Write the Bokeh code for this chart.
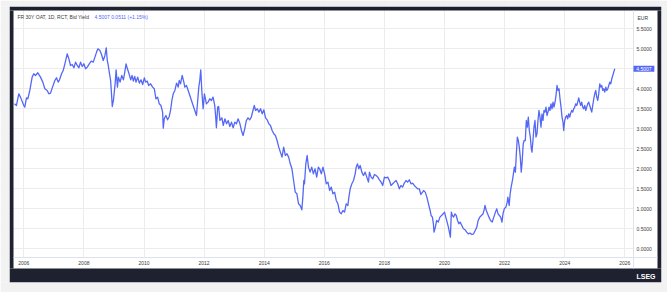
from bokeh.plotting import figure
from bokeh.models import Range1d, FixedTicker, Label, NumeralTickFormatter, ColumnDataSource, BoxAnnotation
from bokeh.embed import file_html
from bokeh.resources import INLINE

# ---------------- data (decimal year, bid yield %) ----------------
dates = [
    2005.689, 2005.756, 2005.833, 2005.889, 2006.000, 2006.033, 2006.089, 2006.133, 2006.200, 2006.278,
    2006.333, 2006.389, 2006.467, 2006.556, 2006.633, 2006.700, 2006.778, 2006.833, 2006.889, 2006.956,
    2007.033, 2007.089, 2007.144, 2007.189, 2007.256, 2007.311, 2007.367, 2007.444, 2007.500, 2007.556,
    2007.611, 2007.667, 2007.722, 2007.778, 2007.833, 2007.889, 2007.944, 2008.000, 2008.056, 2008.111,
    2008.178, 2008.244, 2008.311, 2008.367, 2008.422, 2008.467, 2008.533, 2008.578, 2008.644, 2008.700,
    2008.744, 2008.778, 2008.811, 2008.844, 2008.889, 2008.922, 2008.944,
    2008.983, 2009.039, 2009.072, 2009.116, 2009.149, 2009.204, 2009.260, 2009.315, 2009.370, 2009.403,
    2009.448, 2009.503, 2009.558, 2009.602, 2009.646, 2009.691, 2009.735, 2009.790, 2009.845, 2009.901,
    2009.956, 2010.011, 2010.055, 2010.110, 2010.155, 2010.221, 2010.287, 2010.343, 2010.398, 2010.453,
    2010.508, 2010.564, 2010.619, 2010.641, 2010.674, 2010.729, 2010.785, 2010.840, 2010.884, 2010.928,
    2010.972, 2011.028, 2011.083, 2011.138, 2011.171, 2011.215, 2011.271, 2011.326, 2011.359, 2011.414,
    2011.470, 2011.525, 2011.580, 2011.635, 2011.691, 2011.746, 2011.779, 2011.823, 2011.856, 2011.889,
    2011.923, 2011.967, 2012.011, 2012.044, 2012.077, 2012.133, 2012.188, 2012.243, 2012.298, 2012.354,
    2012.387, 2012.409,
    2012.451, 2012.484, 2012.527, 2012.593, 2012.637, 2012.692, 2012.747, 2012.802, 2012.857, 2012.912,
    2012.967, 2013.022, 2013.077, 2013.132, 2013.187, 2013.242, 2013.297, 2013.352, 2013.407, 2013.462,
    2013.516, 2013.571, 2013.626, 2013.670, 2013.714, 2013.769, 2013.824, 2013.879, 2013.934, 2013.989,
    2014.044, 2014.099, 2014.154, 2014.209, 2014.264, 2014.319, 2014.374, 2014.429, 2014.484, 2014.538,
    2014.593, 2014.648, 2014.703, 2014.758, 2014.813, 2014.868, 2014.923, 2014.978, 2015.033, 2015.088,
    2015.143, 2015.198, 2015.253, 2015.286, 2015.319, 2015.341, 2015.385, 2015.429, 2015.473, 2015.527,
    2015.582, 2015.637, 2015.692, 2015.747, 2015.802,
    2015.845, 2015.901, 2015.956, 2016.011, 2016.066, 2016.122, 2016.177, 2016.232, 2016.287, 2016.343,
    2016.398, 2016.453, 2016.508, 2016.564, 2016.619, 2016.674, 2016.729, 2016.785, 2016.818, 2016.862,
    2016.917, 2016.972, 2017.028, 2017.061, 2017.105, 2017.149, 2017.193, 2017.249, 2017.304, 2017.359,
    2017.414, 2017.470, 2017.503, 2017.558, 2017.613, 2017.669, 2017.724, 2017.779, 2017.834, 2017.890,
    2017.945, 2018.000, 2018.055, 2018.110, 2018.166, 2018.221, 2018.276, 2018.331, 2018.387, 2018.442,
    2018.497, 2018.552, 2018.608, 2018.663, 2018.718, 2018.773, 2018.829, 2018.884, 2018.939, 2018.994,
    2019.050, 2019.105, 2019.160, 2019.215, 2019.271,
    2019.304, 2019.359, 2019.413, 2019.467, 2019.522, 2019.554, 2019.598, 2019.630, 2019.652, 2019.696,
    2019.739, 2019.793, 2019.848, 2019.902, 2019.957, 2020.000, 2020.043, 2020.087, 2020.130, 2020.174,
    2020.196, 2020.228, 2020.261, 2020.304, 2020.348, 2020.391, 2020.435, 2020.478, 2020.522, 2020.576,
    2020.630, 2020.685, 2020.739, 2020.793, 2020.848, 2020.913, 2020.967, 2021.022, 2021.076, 2021.120,
    2021.174, 2021.228, 2021.283, 2021.326, 2021.348, 2021.391, 2021.435, 2021.478, 2021.533, 2021.587,
    2021.641, 2021.696, 2021.739, 2021.783, 2021.826, 2021.870, 2021.913, 2021.946, 2021.989, 2022.043,
    2022.087, 2022.109, 2022.152, 2022.185, 2022.217, 2022.261, 2022.293, 2022.326, 2022.359, 2022.391,
    2022.424, 2022.457, 2022.489, 2022.522, 2022.554, 2022.587, 2022.620, 2022.652,
    2022.689, 2022.722, 2022.756, 2022.789, 2022.822, 2022.856, 2022.889, 2022.911, 2022.944, 2022.978,
    2023.011, 2023.044, 2023.078, 2023.111, 2023.144, 2023.178, 2023.211, 2023.244, 2023.278, 2023.311,
    2023.344, 2023.378, 2023.411, 2023.444, 2023.478, 2023.511, 2023.544, 2023.578, 2023.611, 2023.644,
    2023.678, 2023.711, 2023.744, 2023.778, 2023.811, 2023.844, 2023.878, 2023.911, 2023.944, 2023.967,
    2024.000, 2024.033, 2024.067, 2024.100, 2024.133, 2024.167, 2024.200, 2024.233, 2024.267, 2024.300,
    2024.333, 2024.367, 2024.400, 2024.433, 2024.467, 2024.500, 2024.533, 2024.567, 2024.600, 2024.633,
    2024.667, 2024.700, 2024.733, 2024.767, 2024.800, 2024.833, 2024.867, 2024.900, 2024.933, 2024.967,
    2025.000, 2025.033, 2025.067, 2025.100, 2025.133, 2025.167, 2025.200, 2025.233, 2025.267, 2025.300,
    2025.333, 2025.367, 2025.400, 2025.433, 2025.467, 2025.500, 2025.533, 2025.567, 2025.600, 2025.633,
    2025.667,
]

yields = [
    3.625, 3.583, 3.875, 3.792, 3.583, 3.542, 3.775, 3.750, 3.958, 4.292,
    4.375, 4.333, 4.400, 4.292, 4.167, 4.000, 3.958, 3.875, 3.892, 4.042,
    4.208, 4.275, 4.167, 4.225, 4.375, 4.458, 4.625, 4.875, 4.750, 4.583,
    4.608, 4.525, 4.667, 4.583, 4.525, 4.667, 4.558, 4.625, 4.500, 4.542,
    4.625, 4.692, 4.667, 4.792, 4.917, 5.000, 4.958, 4.875, 4.708, 4.833,
    5.025, 4.708, 4.583, 4.417, 4.208, 3.833, 3.558,
    3.708, 4.125, 4.475, 4.042, 4.292, 4.167, 4.333, 4.225, 4.458, 4.625,
    4.500, 4.375, 4.225, 4.333, 4.192, 4.308, 4.167, 4.292, 4.142, 4.225,
    4.108, 4.275, 4.167, 4.192, 4.083, 4.125, 4.042, 4.000, 3.750, 3.792,
    3.625, 3.583, 3.417, 3.017, 3.250, 3.333, 3.225, 3.308, 3.458, 3.708,
    3.875, 3.958, 4.142, 4.042, 4.208, 4.125, 4.333, 4.167, 4.042, 4.083,
    3.958, 3.833, 3.708, 3.583, 3.458, 3.333, 3.625, 4.042, 4.208, 4.475,
    3.958, 3.500, 3.875, 3.750, 3.625, 3.667, 3.750, 3.708, 3.792, 3.583,
    3.292, 3.025,
    3.542, 3.558, 3.208, 3.275, 3.083, 3.250, 3.125, 3.208, 3.058, 3.167,
    3.025, 3.167, 3.125, 3.250, 3.142, 2.958, 2.833, 3.000, 3.208, 3.275,
    3.225, 3.292, 3.458, 3.583, 3.458, 3.500, 3.417, 3.500, 3.375, 3.475,
    3.275, 3.225, 3.125, 3.083, 2.958, 2.875, 2.833, 2.708, 2.542, 2.417,
    2.292, 2.542, 2.333, 2.375, 2.292, 2.125, 2.000, 1.708, 1.417, 1.375,
    1.125, 1.083, 0.975, 1.292, 1.708, 1.625, 2.125, 2.333, 2.042, 1.917,
    2.042, 1.875, 2.000, 1.792, 2.042,
    2.000, 1.875, 2.042, 1.875, 1.625, 1.667, 1.458, 1.542, 1.375, 1.417,
    1.208, 1.125, 0.917, 0.875, 0.958, 0.917, 1.125, 1.083, 1.292, 1.500,
    1.625, 1.708, 1.875, 2.042, 2.125, 2.000, 2.083, 1.917, 1.833, 1.917,
    1.792, 1.667, 1.917, 1.792, 1.750, 1.858, 1.833, 1.792, 1.725, 1.667,
    1.583, 1.792, 1.775, 1.792, 1.708, 1.583, 1.625, 1.667, 1.708, 1.625,
    1.500, 1.583, 1.542, 1.642, 1.708, 1.667, 1.725, 1.625, 1.642, 1.583,
    1.542, 1.500, 1.500, 1.358, 1.417,
    1.458, 1.417, 1.292, 1.125, 0.958, 0.833, 0.792, 0.625, 0.417, 0.542,
    0.708, 0.667, 0.792, 0.833, 0.875, 0.917, 0.792, 0.667, 0.542, 0.375,
    0.292, 0.917, 0.833, 0.792, 0.875, 0.833, 0.708, 0.625, 0.667, 0.583,
    0.500, 0.475, 0.417, 0.375, 0.392, 0.358, 0.375, 0.458, 0.542, 0.708,
    0.792, 0.833, 0.875, 1.000, 1.083, 0.958, 0.875, 0.792, 0.708, 0.667,
    0.792, 0.917, 1.000, 0.875, 0.833, 0.792, 0.667, 0.875, 1.000, 1.042,
    1.167, 1.292, 1.083, 1.375, 1.542, 1.708, 1.875, 2.042, 1.917, 2.375,
    2.792, 2.708, 2.542, 2.292, 1.917, 2.208, 2.625, 2.708,
    2.708, 3.208, 3.042, 3.292, 2.958, 2.792, 2.500, 2.417, 2.708, 3.042,
    3.208, 2.792, 2.875, 3.208, 3.458, 3.292, 3.042, 3.375, 3.208, 3.458,
    3.417, 3.542, 3.333, 3.417, 3.542, 3.458, 3.625, 3.500, 3.667, 3.542,
    3.667, 3.833, 4.083, 3.958, 4.000, 3.750, 3.542, 3.292, 3.167, 2.958,
    3.208, 3.292, 3.333, 3.250, 3.375, 3.292, 3.392, 3.458, 3.417, 3.500,
    3.542, 3.625, 3.583, 3.667, 3.775, 3.667, 3.583, 3.667, 3.542, 3.500,
    3.583, 3.458, 3.542, 3.625, 3.667, 3.583, 3.500, 3.417, 3.583, 3.750,
    3.875, 3.958, 3.792, 3.708, 3.875, 4.125, 4.042, 4.083, 3.958, 4.000,
    3.917, 4.042, 3.958, 4.000, 4.083, 4.167, 4.125, 4.250, 4.333, 4.417,
    4.5007,
]

x_ticks = [2006, 2008, 2010, 2012, 2014, 2016, 2018, 2020, 2022, 2024, 2026]
x_tick_labels = ["2006", "2008", "2010", "2012", "2014", "2016", "2018", "2020", "2022", "2024", "2026"]
y_ticks = [0.0, 0.5, 1.0, 1.5, 2.0, 2.5, 3.0, 3.5, 4.0, 4.5, 5.0, 5.5]

series_name = "FR 30Y OAT, 1D, RCT, Bid Yield"
last_value = 4.5007
change = 0.0511
change_pct = 1.15
currency = "EUR"
brand = "LSEG"

# ---------------- styling ----------------
LINE = "#5468f5"
GRID = "#ececec"
AXIS = "#dfe2ea"
TXT = "#3a3a3a"
PAGE = "#f2f2f2"
DARK = "#1e2230"
FONT = "Liberation Sans"
NBSP = "\u00a0"

W, H = 667, 292
PX_PER_YEAR = 30.05          # horizontal scale
PX_PER_UNIT = 40.0           # vertical scale (px per 1.0 yield)
X_ORIGIN = 2006 - 23.3 / PX_PER_YEAR   # year at the left canvas edge
Y_ZERO_PX = 248.3            # canvas row of yield 0


def cx(px):
    """canvas column -> year"""
    return X_ORIGIN + px / PX_PER_YEAR


def cy(py):
    """canvas row -> yield"""
    return (Y_ZERO_PX - py) / PX_PER_UNIT


# the plot frame covers the whole canvas; axes are pinned inside it
p = figure(width=W, height=H, x_range=Range1d(cx(0), cx(W)), y_range=Range1d(cy(H), cy(0)),
           y_axis_location="right", output_backend="svg", toolbar_location=None,
           min_border_left=0, min_border_right=0, min_border_top=0, min_border_bottom=0,
           border_fill_color="white", background_fill_color="white", outline_line_color=None)

p.xgrid.grid_line_color = GRID
p.ygrid.grid_line_color = GRID
p.xgrid.ticker = FixedTicker(ticks=x_ticks)
p.ygrid.ticker = FixedTicker(ticks=y_ticks)


def box(l, r, t, b, color):
    p.add_layout(BoxAnnotation(left=cx(l), right=cx(r), top=cy(t), bottom=cy(b), level="underlay",
                               fill_color=color, fill_alpha=1, line_color=None, line_alpha=0))


# white label zones (hide grid under the scales)
box(633.5, 657, 10, 268, "white")
box(13, 633.5, 257.5, 268, "white")
# dark card border around the white chart panel
box(9, 661, 6, 10, DARK)
box(9, 661, 268, 282, DARK)
box(9, 13, 10, 268, DARK)
box(657, 661, 10, 268, DARK)
# page margin (light grey)
box(0, W, 0, 6, PAGE)
box(0, W, 282, H, PAGE)
box(0, 9, 6, 282, PAGE)
box(661, W, 6, 282, PAGE)

source = ColumnDataSource(data=dict(x=dates, y=yields))
p.line("x", "y", source=source, line_color=LINE, line_width=1.3, line_join="round")

xa, ya = p.xaxis[0], p.yaxis[0]
xa.ticker = FixedTicker(ticks=x_ticks)
xa.major_label_overrides = {t: l for t, l in zip(x_ticks, x_tick_labels)}
xa.fixed_location = cy(257)
xa.bounds = (cx(13), cx(657))
ya.ticker = FixedTicker(ticks=y_ticks)
ya.formatter = NumeralTickFormatter(format="0.0000")
ya.fixed_location = cx(633)
ya.bounds = (cy(268), cy(10))
for ax in (xa, ya):
    ax.axis_line_color = AXIS
    ax.axis_line_width = 1
    ax.major_tick_line_color = None
    ax.minor_tick_line_color = None
    ax.major_tick_out = 0
    ax.major_tick_in = 0
    ax.minor_tick_out = 0
    ax.minor_tick_in = 0
    ax.major_label_text_font_size = "5px"
    ax.major_label_text_color = TXT
    ax.major_label_text_font = FONT
    ax.major_label_standoff = 3

# legend line at top-left
p.add_layout(Label(x=cx(17), y=cy(16.7), text=series_name,
                   text_font_size="5px", text_color=TXT, text_font=FONT, text_baseline="middle"))
p.add_layout(Label(x=cx(94), y=cy(16.7),
                   text=f"{last_value:.4f}  {change:.4f} (+{change_pct:.2f}%)",
                   text_font_size="5px", text_color=LINE, text_font=FONT, text_baseline="middle"))
# currency badge above the price scale
p.add_layout(Label(x=cx(637), y=cy(17), text=currency,
                   text_font_size="5px", text_color=TXT, text_font=FONT, text_baseline="middle"))
# last value tag on the price scale
p.add_layout(Label(x=cx(633), y=last_value, text=f"{NBSP}{NBSP}{last_value:.4f}{NBSP}{NBSP}",
                   text_font_size="5px", text_color="white", text_font=FONT, text_baseline="middle",
                   background_fill_color=LINE))
# brand in the dark footer
p.add_layout(Label(x=cx(655), y=cy(275.5), text=brand,
                   text_font_size="7px", text_font_style="bold", text_color="white",
                   text_font=FONT, text_align="right", text_baseline="middle"))

open("out.html", "w").write(file_html(p, INLINE))
